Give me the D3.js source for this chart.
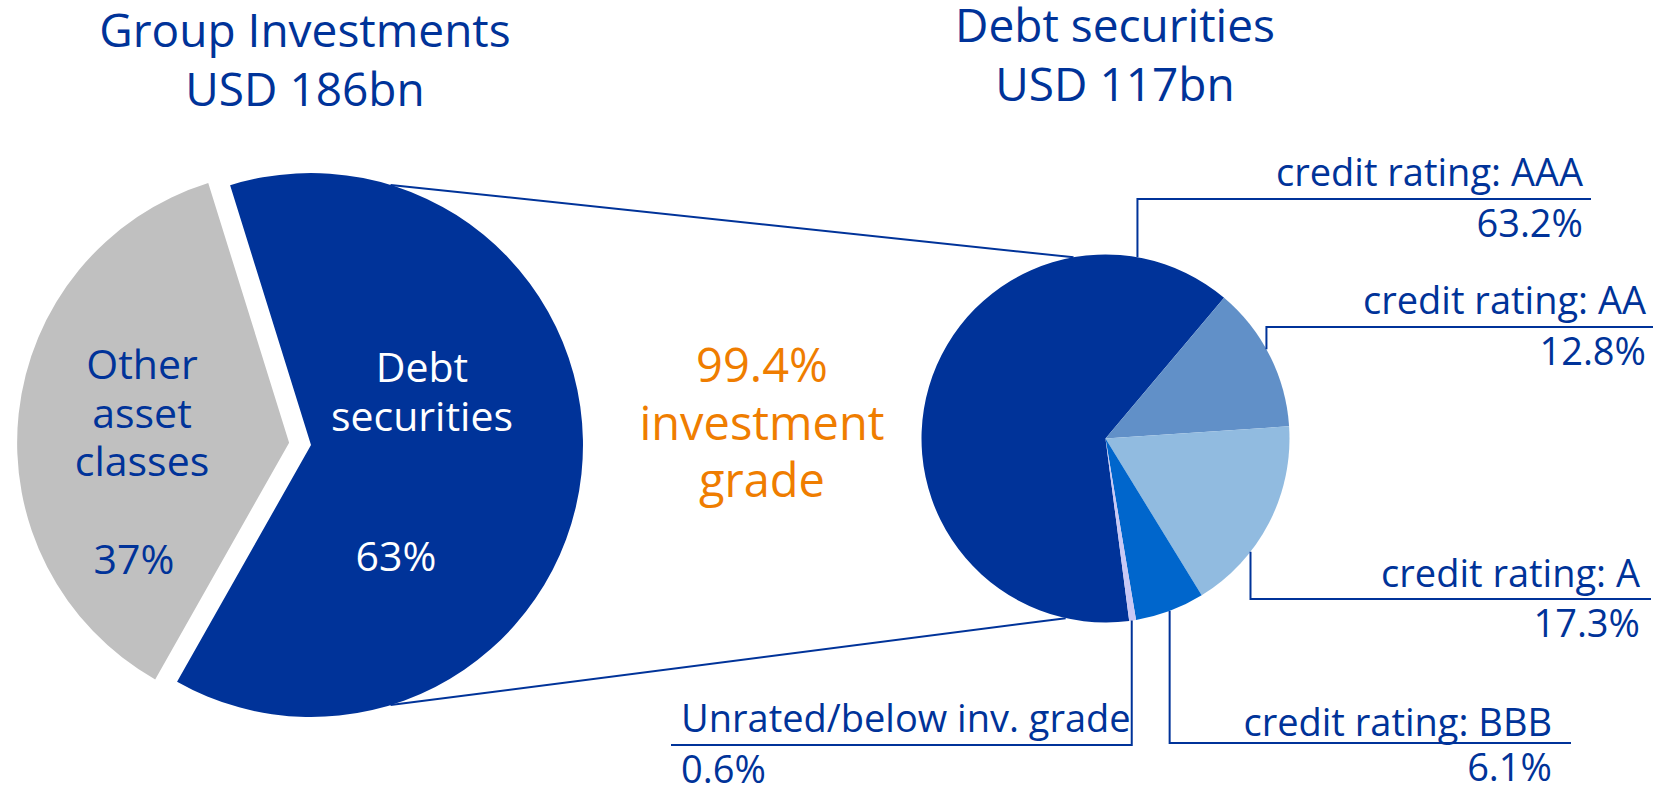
<!DOCTYPE html>
<html>
<head>
<meta charset="utf-8">
<script src="https://cdn.jsdelivr.net/npm/d3@7"></script>
<style>
  body { margin: 0; background: #fff; }
  text { font-family: "Open Sans", sans-serif; }
</style>
</head>
<body>
<div id="chart"></div>
<script>
// data
var groupCategories = ['Debt securities', 'Other asset classes'];
var groupValues = [63, 37];
var groupLabels = ['63%', '37%'];
var groupNames = [['Debt', 'securities'], ['Other', 'asset', 'classes']];

var ratingCategories = ['credit rating: AAA', 'credit rating: AA', 'credit rating: A', 'credit rating: BBB', 'Unrated/below inv. grade'];
var ratingValues = [63.2, 12.8, 17.3, 6.1, 0.6];
var ratingLabels = ['63.2%', '12.8%', '17.3%', '6.1%', '0.6%'];

var titleLeft = ['Group Investments', 'USD 186bn'];
var titleRight = ['Debt securities', 'USD 117bn'];
var gradeText = ['99.4%', 'investment', 'grade'];

var chart_width = 1653;
var chart_height = 788;
var blue = '#003399';
var rad = Math.PI / 180;

var svg = d3.select('#chart')
  .append('svg')
  .attr('width', chart_width)
  .attr('height', chart_height);

// left pie
var left = {x: 311, y: 445, r: 272};
var groupColors = [blue, '#c0c0c0'];
var groupTextColors = ['#ffffff', blue];

var pieLeft = d3.pie().sort(null)
  .startAngle(-17.3 * rad)
  .endAngle(-17.3 * rad + 2 * Math.PI);
var arcLeft = d3.arc().innerRadius(0).outerRadius(left.r);
var explode = [0, 22];

var gLeft = svg.append('g')
  .attr('transform', 'translate(' + left.x + ',' + left.y + ')');

gLeft.selectAll('path')
  .data(pieLeft(groupValues))
  .enter()
  .append('path')
  .attr('d', arcLeft)
  .attr('fill', function(d, i) { return groupColors[i]; })
  .attr('transform', function(d, i) {
    var a = (d.startAngle + d.endAngle) / 2;
    return 'translate(' + (Math.sin(a) * explode[i]) + ',' + (-Math.cos(a) * explode[i]) + ')';
  });

// pie labels (offsets from pie centre)
var nameOffsets = [{dx: 111, dy: -63}, {dx: -169, dy: -66}];
var pctOffsets = [{dx: 85, dy: 126}, {dx: -177, dy: 129}];

groupNames.forEach(function(lines, i) {
  var t = svg.append('text')
    .attr('text-anchor', 'middle')
    .attr('font-size', 41)
    .attr('fill', groupTextColors[i]);
  lines.forEach(function(s, j) {
    t.append('tspan')
      .attr('x', left.x + nameOffsets[i].dx)
      .attr('y', left.y + nameOffsets[i].dy + j * 48.5)
      .text(s);
  });
  svg.append('text')
    .attr('text-anchor', 'middle')
    .attr('font-size', 41)
    .attr('fill', groupTextColors[i])
    .attr('x', left.x + pctOffsets[i].dx)
    .attr('y', left.y + pctOffsets[i].dy)
    .text(groupLabels[i]);
});

// right pie
var right = {x: 1105.5, y: 438.5, r: 184};
var ratingColors = [blue, '#6190c8', '#91bbe0', '#0066cc', '#c8c8f5'];

var pieRight = d3.pie().sort(null)
  .startAngle(-187.4 * rad)
  .endAngle(-187.4 * rad + 2 * Math.PI);
var arcRight = d3.arc().innerRadius(0).outerRadius(right.r);

// connector lines between the pies
function onCircle(c, deg) {
  return [c.x + Math.sin(deg * rad) * c.r, c.y - Math.cos(deg * rad) * c.r];
}
var connectors = [[onCircle(left, 17), onCircle(right, -10)], [onCircle(left, 163), onCircle(right, 192.5)]];
svg.selectAll('line.conn')
  .data(connectors)
  .enter()
  .append('line')
  .attr('class', 'conn')
  .attr('x1', function(d) { return d[0][0]; })
  .attr('y1', function(d) { return d[0][1]; })
  .attr('x2', function(d) { return d[1][0]; })
  .attr('y2', function(d) { return d[1][1]; })
  .attr('stroke', blue)
  .attr('stroke-width', 2);

var gRight = svg.append('g')
  .attr('transform', 'translate(' + right.x + ',' + right.y + ')');

gRight.selectAll('path')
  .data(pieRight(ratingValues))
  .enter()
  .append('path')
  .attr('d', arcRight)
  .attr('fill', function(d, i) { return ratingColors[i]; });

// callouts
var callAngle = [10, 61, 128, 159.6, 171.8];
var callLineY = [199, 327, 599, 743, 745];
var callTextX = [1583, 1646, 1640, 1552, 681];
var callLineEnd = [1591, 1653, 1651, 1571, 671];
var callAnchor = ['end', 'end', 'end', 'end', 'start'];
var callAbove = [13, 13, 12.5, 7, 13];

ratingCategories.forEach(function(c, i) {
  var p = onCircle(right, callAngle[i]);
  svg.append('polyline')
    .attr('points', [p, [p[0], callLineY[i]], [callLineEnd[i], callLineY[i]]].join(' '))
    .attr('fill', 'none')
    .attr('stroke', blue)
    .attr('stroke-width', 2);
  svg.append('text')
    .attr('x', callTextX[i])
    .attr('y', callLineY[i] - callAbove[i])
    .attr('text-anchor', callAnchor[i])
    .attr('font-size', 38)
    .attr('fill', blue)
    .text(c);
  svg.append('text')
    .attr('x', callTextX[i])
    .attr('y', callLineY[i] + 38)
    .attr('text-anchor', callAnchor[i])
    .attr('font-size', 38)
    .attr('fill', blue)
    .text(ratingLabels[i]);
});

// titles
function title(lines, x, y) {
  lines.forEach(function(s, j) {
    svg.append('text')
      .attr('x', x)
      .attr('y', y + j * 58.5)
      .attr('text-anchor', 'middle')
      .attr('font-size', 46)
      .attr('fill', blue)
      .text(s);
  });
}
title(titleLeft, 305, 47);
title(titleRight, 1115, 42);

gradeText.forEach(function(s, j) {
  svg.append('text')
    .attr('x', 762)
    .attr('y', 382 + j * 57.5)
    .attr('text-anchor', 'middle')
    .attr('font-size', 47)
    .attr('fill', '#ef7d00')
    .text(s);
});
</script>
</body>
</html>
